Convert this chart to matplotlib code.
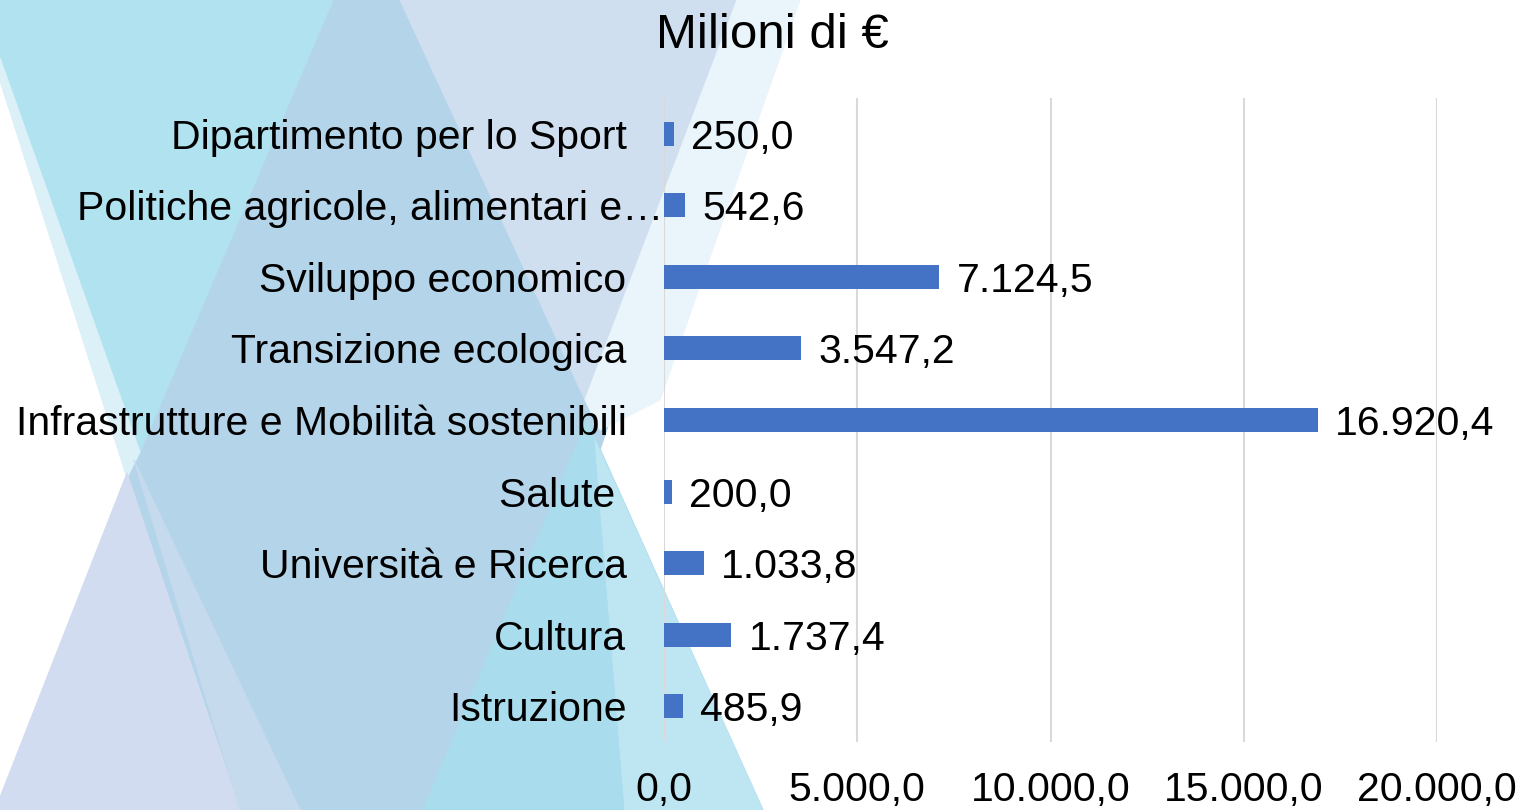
import matplotlib
matplotlib.use("Agg")
import matplotlib.pyplot as plt
from matplotlib.patches import Polygon

plt.rcParams['font.family'] = ['Liberation Sans', 'DejaVu Sans']

# --- data (top to bottom as shown) ---
categories = [
    "Dipartimento per lo Sport",
    "Politiche agricole, alimentari e…",
    "Sviluppo economico",
    "Transizione ecologica",
    "Infrastrutture e Mobilità sostenibili",
    "Salute ",
    "Università e Ricerca",
    "Cultura",
    "Istruzione",
]
values = [250.0, 542.6, 7124.5, 3547.2, 16920.4, 200.0, 1033.8, 1737.4, 485.9]
x_ticks = [0, 5000, 10000, 15000, 20000]
title = "Milioni di €"

FS = 29.5


def it_fmt(v):
    s = f"{v:,.1f}"
    return s.replace(",", "X").replace(".", ",").replace("X", ".")


fig = plt.figure(figsize=(15.2, 8.1), dpi=100)

# --- decorative background triangles (pixel coords, y down) ---
bg = fig.add_axes([0, 0, 1, 1], zorder=-5)
bg.set_xlim(0, 1520)
bg.set_ylim(810, 0)
bg.axis("off")

shapes = [
    # blue base, overlapped by the others
    ("#b4d4ea", [(318, 0), (420, 0), (610, 420), (480, 810), (240, 810), (127, 473), (140, 452)]),
    ("#b1e2ef", [(0, 0), (333, 0), (140, 452), (0, 58)]),
    ("#dcf0f7", [(0, 58), (140, 452), (127, 478), (0, 81)]),
    ("#d2dcf0", [(127, 473), (-5, 810), (240, 810)]),
    ("#c6daee", [(134, 460), (240, 810), (300, 810)]),
    ("#d0dff0", [(400, 0), (737, 0), (585, 400)]),
    ("#eaf4fb", [(737, 0), (800, 0), (660, 400), (600, 430), (585, 400)]),
    ("#a9dced", [(587, 420), (423, 810), (763, 810)]),
    ("#bde6f2", [(595, 440), (625, 810), (763, 810)]),
]
for color, pts in shapes:
    bg.add_patch(Polygon(pts, closed=True, facecolor=color, edgecolor=color, linewidth=0.8))

# --- main chart ---
ax = fig.add_axes([664 / 1520, 1 - 742 / 810, (1437 - 664) / 1520, (742 - 98) / 810])
ax.set_facecolor("none")

ypos = list(range(len(categories)))
ax.barh(ypos, values, height=0.335, color="#4472c4", zorder=3)

for y, v in zip(ypos, values):
    ax.annotate(it_fmt(v), (v, y), xytext=(12.5, 0), textcoords="offset points",
                va="center_baseline", ha="left", fontsize=FS, color="black",
                annotation_clip=False, zorder=4)

ax.set_ylim(len(categories) - 0.5, -0.5)
ax.set_xlim(0, 20000)
ax.set_yticks(ypos)
# the truncated label overflows towards the axis, drawn separately below
ax.set_yticklabels(["" if i == 1 else c for i, c in enumerate(categories)], fontsize=FS)
ax.annotate(categories[1], (0, 1), xytext=(-0.5, 0), textcoords="offset points",
            ha="right", va="center_baseline", fontsize=FS, annotation_clip=False)
ax.set_xticks(x_ticks)
ax.set_xticklabels([it_fmt(t) for t in x_ticks], fontsize=FS)
ax.tick_params(axis="y", length=0, pad=27)
ax.tick_params(axis="x", length=0, pad=21)

ax.grid(axis="x", color="#d9d9d9", linewidth=1.5, zorder=0)
for s in ax.spines.values():
    s.set_visible(False)

fig.text(772 / 1520, 1 - 35 / 810, title, ha="center", va="center", fontsize=35.5)

fig.savefig("out.png", dpi=100)
